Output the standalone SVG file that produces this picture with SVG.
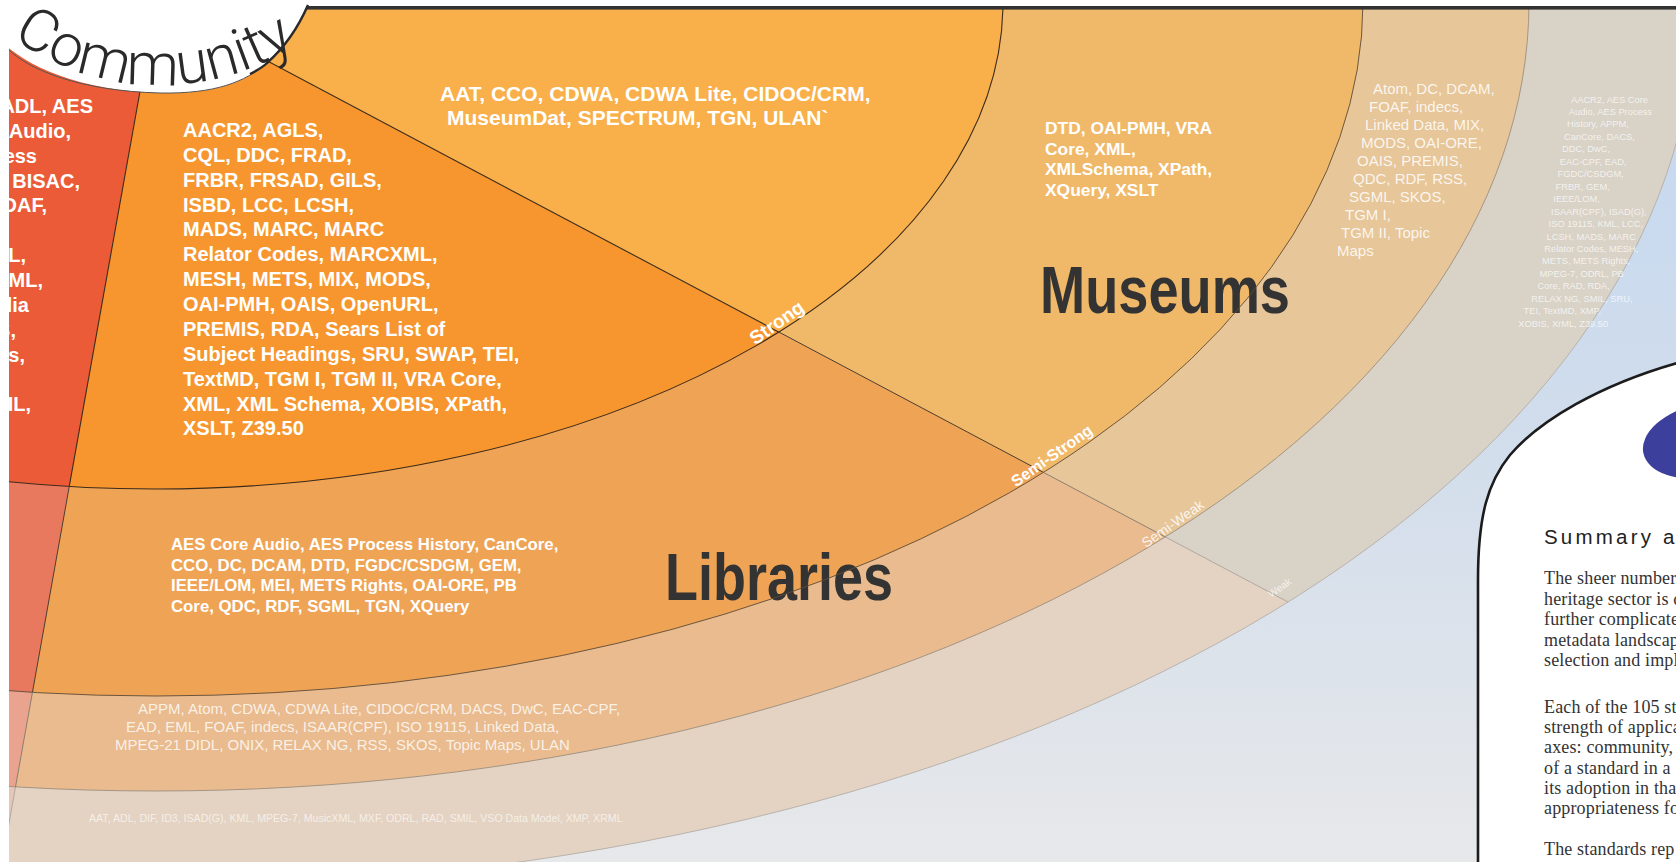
<svg xmlns="http://www.w3.org/2000/svg" width="1676" height="862" viewBox="0 0 1676 862">
<defs>
  <linearGradient id="bg" x1="0" y1="0" x2="0" y2="1">
    <stop offset="0" stop-color="#C3D8F2"/>
    <stop offset="0.45" stop-color="#CFDCEC"/>
    <stop offset="1" stop-color="#E7E8EA"/>
  </linearGradient>
  <clipPath id="frame"><rect x="9" y="9" width="1667" height="853"/></clipPath>
  <clipPath id="cRed"><polygon points="156,2 -738,5000 -3000,5000 -3000,-3000 156,-3000"/></clipPath>
  <clipPath id="cLib"><polygon points="156,2 2156,1062 2156,5000 -738,5000"/></clipPath>
  <clipPath id="cMus"><polygon points="156,2 2156,1062 3000,1062 3000,-3000 156,-3000"/></clipPath>
  <path id="commPath" d="M 5 32 A 253 253 0 0 0 300 42.7"/>
</defs>
<style>
  .b{font-family:"Liberation Sans",Arial,Helvetica,sans-serif;font-weight:bold;fill:#fff}
  .r{font-family:"Liberation Sans",Arial,Helvetica,sans-serif;fill:#fff}
  .big{font-family:"Liberation Sans Narrow","Liberation Sans",Arial,sans-serif;font-weight:bold;fill:#333;font-size:66px}
  .ring{font-family:"Liberation Sans",Arial,sans-serif;fill:#fff;text-anchor:middle}
  .body{font-family:"Liberation Serif","Times New Roman",serif;font-size:18px;letter-spacing:0.15px;fill:#333}
  .arc{fill:none}
</style>
<rect x="0" y="0" width="1676" height="862" fill="#fff"/>

<g id="sectors" clip-path="url(#frame)">
  <rect x="0" y="0" width="1676" height="862" fill="url(#bg)"/>
  <g id="archives-sector" clip-path="url(#cRed)">
    <ellipse cx="156" cy="2" rx="1540" ry="885" fill="#E6C6B6"/>
    <ellipse cx="156" cy="2" rx="1373" ry="789" fill="#E9A38E"/>
    <ellipse cx="156" cy="2" rx="1207" ry="694" fill="#E8795F"/>
    <ellipse cx="156" cy="2" rx="847" ry="487" fill="#EB5B37"/>
  </g>
  <g id="libraries-sector" clip-path="url(#cLib)">
    <ellipse cx="156" cy="2" rx="1540" ry="885" fill="#E4D3C2"/>
    <ellipse cx="156" cy="2" rx="1373" ry="789" fill="#E9BB8E"/>
    <ellipse cx="156" cy="2" rx="1207" ry="694" fill="#EFA355"/>
    <ellipse cx="156" cy="2" rx="847" ry="487" fill="#F7962F"/>
  </g>
  <g id="museums-sector" clip-path="url(#cMus)">
    <ellipse cx="156" cy="2" rx="1540" ry="885" fill="#D9D2C7"/>
    <ellipse cx="156" cy="2" rx="1373" ry="789" fill="#E7C699"/>
    <ellipse cx="156" cy="2" rx="1207" ry="694" fill="#F0B869"/>
    <ellipse cx="156" cy="2" rx="847" ry="487" fill="#F9AF4A"/>
  </g>
</g>

<g id="labels-big">
  <text class="big" x="665" y="600" textLength="228" lengthAdjust="spacingAndGlyphs">Libraries</text>
  <text class="big" x="1040" y="313" textLength="250" lengthAdjust="spacingAndGlyphs">Museums</text>
</g>

<g id="connectors" clip-path="url(#frame)">
  <ellipse class="arc" cx="156" cy="2" rx="1540" ry="885" stroke="#B3AEA8" stroke-width="0.9"/>
  <ellipse class="arc" cx="156" cy="2" rx="1373" ry="789" stroke="#9C8E80" stroke-width="0.9"/>
  <ellipse class="arc" cx="156" cy="2" rx="1207" ry="694" stroke="#5E4C3A" stroke-width="0.9"/>
  <ellipse class="arc" cx="156" cy="2" rx="847" ry="487" stroke="#3D2B1A" stroke-width="1.1"/>
  <line x1="156" y1="2" x2="778.6" y2="331.9" stroke="#3D2B1A" stroke-width="1.1"/>
  <line x1="778.6" y1="331.9" x2="1043.3" y2="472.3" stroke="#4D3B2A" stroke-width="1"/>
  <line x1="1043.3" y1="472.3" x2="1165.3" y2="536.9" stroke="#857566" stroke-width="0.9"/>
  <line x1="1165.3" y1="536.9" x2="1288" y2="602" stroke="#AAA39B" stroke-width="0.9"/>
  <line x1="156" y1="2" x2="69.3" y2="486.2" stroke="#3D2B1A" stroke-width="1.1"/>
  <line x1="69.3" y1="486.2" x2="32.5" y2="692" stroke="#4D3B2A" stroke-width="1"/>
  <line x1="32.5" y1="692" x2="15.5" y2="787" stroke="#857566" stroke-width="0.9"/>
  <line x1="15.5" y1="787" x2="-1" y2="879" stroke="#AAA39B" stroke-width="0.9"/>
</g>

<g id="archives-strong" clip-path="url(#frame)" class="b" font-size="20" text-anchor="end">
  <text x="93" y="113">ADL, AES</text>
  <text x="71" y="137.9">Audio,</text>
  <text x="37" y="162.7">ess</text>
  <text x="80" y="187.6">BISAC,</text>
  <text x="47" y="212.4">DAF,</text>
  <text x="26" y="262.2">L,</text>
  <text x="43" y="287.1">ML,</text>
  <text x="29" y="311.9">lia</text>
  <text x="16" y="336.8">S,</text>
  <text x="25" y="361.6">s,</text>
  <text x="31" y="411.3">IL,</text>
</g>

<g id="libraries-strong" class="b" font-size="20">
  <text x="183" y="137">AACR2, AGLS,</text>
  <text x="183" y="161.9">CQL, DDC, FRAD,</text>
  <text x="183" y="186.7">FRBR, FRSAD, GILS,</text>
  <text x="183" y="211.6">ISBD, LCC, LCSH,</text>
  <text x="183" y="236.4">MADS, MARC, MARC</text>
  <text x="183" y="261.3">Relator Codes, MARCXML,</text>
  <text x="183" y="286.2">MESH, METS, MIX, MODS,</text>
  <text x="183" y="311">OAI-PMH, OAIS, OpenURL,</text>
  <text x="183" y="335.9">PREMIS, RDA, Sears List of</text>
  <text x="183" y="360.7">Subject Headings, SRU, SWAP, TEI,</text>
  <text x="183" y="385.6">TextMD, TGM I, TGM II, VRA Core,</text>
  <text x="183" y="410.5">XML, XML Schema, XOBIS, XPath,</text>
  <text x="183" y="435.3">XSLT, Z39.50</text>
</g>

<g id="museums-strong" class="b" font-size="21">
  <text x="440" y="100.5">AAT, CCO, CDWA, CDWA Lite, CIDOC/CRM,</text>
  <text x="447" y="125">MuseumDat, SPECTRUM, TGN, ULAN`</text>
</g>

<g id="museums-semistrong" class="b" font-size="17.4">
  <text x="1045" y="134">DTD, OAI-PMH, VRA</text>
  <text x="1045" y="154.7">Core, XML,</text>
  <text x="1045" y="175.3">XMLSchema, XPath,</text>
  <text x="1045" y="196">XQuery, XSLT</text>
</g>

<g id="museums-semiweak" class="r" font-size="15" fill-opacity="0.85">
  <text x="1373" y="94.3">Atom, DC, DCAM,</text>
  <text x="1369" y="112.3">FOAF, indecs,</text>
  <text x="1365" y="130.3">Linked Data, MIX,</text>
  <text x="1361" y="148.3">MODS, OAI-ORE,</text>
  <text x="1357" y="166.3">OAIS, PREMIS,</text>
  <text x="1353" y="184.3">QDC, RDF, RSS,</text>
  <text x="1349" y="202.3">SGML, SKOS,</text>
  <text x="1345" y="220.3">TGM I,</text>
  <text x="1341" y="238.3">TGM II, Topic</text>
  <text x="1337" y="256.3">Maps</text>
</g>

<g id="museums-weak" class="r" font-size="9.3" fill-opacity="0.72">
  <text x="1571" y="102.5">AACR2, AES Core</text>
  <text x="1568.8" y="115">Audio, AES Process</text>
  <text x="1567" y="127.4">History, APPM,</text>
  <text x="1564.1" y="139.9">CanCore, DACS,</text>
  <text x="1562" y="152.3">DDC, DwC,</text>
  <text x="1559.8" y="164.8">EAC-CPF, EAD,</text>
  <text x="1557.6" y="177.2">FGDC/CSDGM,</text>
  <text x="1555.5" y="189.7">FRBR, GEM,</text>
  <text x="1553.3" y="202.1">IEEE/LOM,</text>
  <text x="1551.1" y="214.6">ISAAR(CPF), ISAD(G),</text>
  <text x="1548.6" y="227">ISO 19115, KML, LCC,</text>
  <text x="1546.5" y="239.5">LCSH, MADS, MARC</text>
  <text x="1544.3" y="251.9">Relator Codes, MESH,</text>
  <text x="1542.1" y="264.4">METS, METS Rights,</text>
  <text x="1539.6" y="276.8">MPEG-7, ODRL, PB</text>
  <text x="1537.5" y="289.3">Core, RAD, RDA,</text>
  <text x="1531.3" y="301.7">RELAX NG, SMIL, SRU,</text>
  <text x="1523.5" y="314.2">TEI, TextMD, XMP,</text>
  <text x="1518.3" y="326.6">XOBIS, XrML, Z39.50</text>
</g>

<g id="libraries-semistrong" class="b" font-size="16.8">
  <text x="171" y="550">AES Core Audio, AES Process History, CanCore,</text>
  <text x="171" y="570.7">CCO, DC, DCAM, DTD, FGDC/CSDGM, GEM,</text>
  <text x="171" y="591.3">IEEE/LOM, MEI, METS Rights, OAI-ORE, PB</text>
  <text x="171" y="612">Core, QDC, RDF, SGML, TGN, XQuery</text>
</g>

<g id="libraries-semiweak" class="r" font-size="15" fill-opacity="0.8">
  <text x="138" y="714">APPM, Atom, CDWA, CDWA Lite, CIDOC/CRM, DACS, DwC, EAC-CPF,</text>
  <text x="126" y="732">EAD, EML, FOAF, indecs, ISAAR(CPF), ISO 19115, Linked Data,</text>
  <text x="115" y="750">MPEG-21 DIDL, ONIX, RELAX NG, RSS, SKOS, Topic Maps, ULAN</text>
</g>

<g id="libraries-weak" class="r" font-size="10.6" fill-opacity="0.65">
  <text x="89" y="822">AAT, ADL, DIF, ID3, ISAD(G), KML, MPEG-7, MusicXML, MXF, ODRL, RAD, SMIL, VSO Data Model, XMP, XRML</text>
</g>

<g id="ring-labels">
  <text class="ring" font-weight="bold" font-size="19" transform="translate(777,323) rotate(-35)" y="6">Strong</text>
  <text class="ring" font-weight="bold" font-size="16" transform="translate(1052,456) rotate(-35)" y="5">Semi-Strong</text>
  <text class="ring" font-size="14" fill-opacity="0.85" transform="translate(1173,524) rotate(-35)" y="4.5">Semi-Weak</text>
  <text class="ring" font-size="10" fill-opacity="0.75" transform="translate(1280,588) rotate(-35)" y="3">Weak</text>
</g>

<g id="top-border">
  <rect x="290" y="6" width="1386" height="3.6" fill="#333"/>
</g>

<g id="community">
  <path d="M 0 40 C 25 66 80 91 160 93 C 215 94 245 82 267 63 C 285 47 298 28 308 5 L 308 0 L 0 0 Z" fill="#fff"/>
  <path d="M 9 50 C 30 70 80 91 160 93 C 215 94 245 82 267 63" fill="none" stroke="#555" stroke-width="1"/>
  <path d="M 250 74 C 258 70 263 67 267 63 C 285 47 298 28 308 5" fill="none" stroke="#2a2a2a" stroke-width="2.4"/>
  <text font-family="Roboto,'Liberation Sans',Arial,sans-serif" font-weight="300" font-size="59" fill="#2a2a2a"><textPath href="#commPath" startOffset="9">Community</textPath></text>
</g>

<g id="summary-panel">
  <path d="M 1676 363 C 1600 385 1540 420 1510 455 C 1488 482 1478 515 1478 580 L 1478 870 L 1680 870 L 1680 363 Z" fill="#fff"/>
  <path d="M 1677 363 C 1600 385 1540 420 1510 455 C 1488 482 1478 515 1478 580 L 1478 870" fill="none" stroke="#1c1c1c" stroke-width="2.6"/>
  <ellipse cx="1706" cy="440" rx="64" ry="37" transform="rotate(-12 1706 440)" fill="#3C3F9C"/>
  <text x="1544" y="544" font-family="'Liberation Sans',Arial,sans-serif" font-size="20.5" letter-spacing="3.2" fill="#222">Summary a</text>
  <text class="body" x="1544" y="584">The sheer number</text>
  <text class="body" x="1544" y="604.5">heritage sector is c</text>
  <text class="body" x="1544" y="625">further complicate</text>
  <text class="body" x="1544" y="645.5">metadata landscap</text>
  <text class="body" x="1544" y="666">selection and impl</text>
  <text class="body" x="1544" y="712.7">Each of the 105 st</text>
  <text class="body" x="1544" y="733">strength of applica</text>
  <text class="body" x="1544" y="753.3">axes: community,</text>
  <text class="body" x="1544" y="773.6">of a standard in a</text>
  <text class="body" x="1544" y="793.9">its adoption in tha</text>
  <text class="body" x="1544" y="814.2">appropriateness fo</text>
  <text class="body" x="1544" y="854.8">The standards rep</text>
</g>
</svg>
